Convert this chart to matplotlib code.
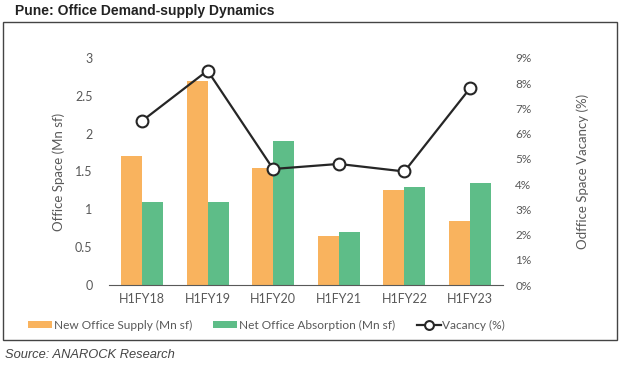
import numpy as np
import matplotlib
matplotlib.use("Agg")
import matplotlib.pyplot as plt
from matplotlib.patches import Rectangle
from matplotlib.ticker import FuncFormatter

plt.rcParams['font.family'] = ['Lato', 'DejaVu Sans']

# -------------- data ------------------------------------------------------
periods = ['H1FY18', 'H1FY19', 'H1FY20', 'H1FY21', 'H1FY22', 'H1FY23']
supply = [1.70, 2.70, 1.55, 0.65, 1.25, 0.85]       # Mn sf
absorption = [1.10, 1.10, 1.90, 0.70, 1.30, 1.35]   # Mn sf
vacancy = [6.5, 8.5, 4.6, 4.8, 4.5, 7.8]            # %

orange = '#F9B35E'
green = '#5EBD88'
grey = '#595959'

fig = plt.figure(figsize=(6.2, 3.67), dpi=100)
ax = fig.add_axes([0.176, 0.2234, 0.635, 0.6186])

x = np.arange(len(periods))
w = 0.32
b1 = ax.bar(x - w/2, supply, w, color=orange, label='New Office Supply (Mn sf)')
b2 = ax.bar(x + w/2, absorption, w, color=green, label='Net Office Absorption (Mn sf)')

ax.set_xlim(-0.5, len(periods) - 0.5)
ax.set_ylim(0, 3)
ax.set_yticks(np.arange(0, 3.01, 0.5))
ax.yaxis.set_major_formatter(FuncFormatter(lambda v, p: f'{v:g}'))
ax.set_xticks(x)
ax.set_xticklabels(periods)
for s in ['top', 'right', 'left']:
    ax.spines[s].set_visible(False)
ax.spines['bottom'].set_color(grey)
ax.tick_params(axis='both', length=0, colors=grey, labelsize=9)
ax.tick_params(axis='y', pad=12)
ax.tick_params(axis='x', pad=6)
ax.set_ylabel('Office Space (Mn sf)', color=grey, fontsize=9.5, labelpad=7)

ax2 = ax.twinx()
ln, = ax2.plot(x, vacancy, color='#262626', lw=1.6, marker='o', ms=8.5,
               mfc='white', mec='#262626', mew=1.5, label='Vacancy (%)')
ax2.set_ylim(0, 9)
ax2.set_yticks(np.arange(0, 10, 1))
ax2.yaxis.set_major_formatter(FuncFormatter(lambda v, p: f'{v:.0f}%'))
for s in ['top', 'right', 'left', 'bottom']:
    ax2.spines[s].set_visible(False)
ax2.tick_params(axis='y', length=0, colors=grey, labelsize=8.5, pad=9)
ax2.set_ylabel('Odffice Space Vacancy (%)', color=grey, fontsize=9.5, labelpad=32)

fig.legend([b1, b2, ln],
           ['New Office Supply (Mn sf)', 'Net Office Absorption (Mn sf)', 'Vacancy (%)'],
           loc='center', bbox_to_anchor=(0.43, 0.114), ncol=3, frameon=False,
           fontsize=8.6, handlelength=2.0, handleheight=0.5, columnspacing=1.8,
           handletextpad=0.15, labelcolor=grey, markerscale=0.75)

# outer frame
fig.patches.append(Rectangle((3/620, 1 - 340/367), 614/620, 318/367,
                             transform=fig.transFigure, fill=False,
                             edgecolor='#444444', lw=1.0))

fig.text(15/620, 1 - 11/367, 'Pune: Office Demand-supply Dynamics',
         fontsize=10, fontweight='bold', color='#222222', va='center',
         family=['Liberation Sans', 'DejaVu Sans'])
fig.text(5/620, 1 - 355/367, 'Source: ANAROCK Research', fontsize=9.3,
         style='italic', color='#444444', va='center',
         family=['Liberation Sans', 'DejaVu Sans'])

fig.savefig('out.png', dpi=100)
